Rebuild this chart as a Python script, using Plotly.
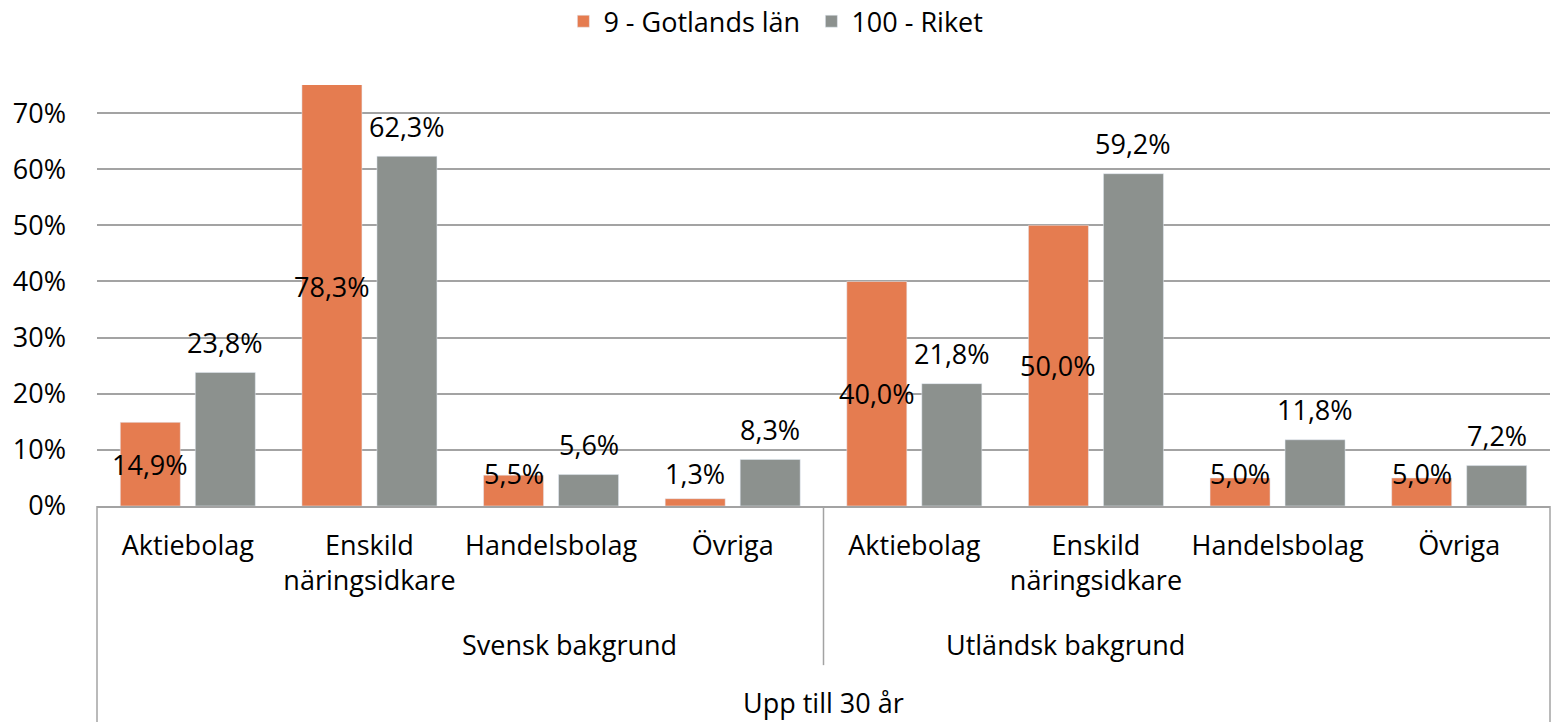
import plotly.graph_objects as go

# data
categories = ["Aktiebolag", "Enskild<br>näringsidkare", "Handelsbolag", "Övriga",
              "Aktiebolag", "Enskild<br>näringsidkare", "Handelsbolag", "Övriga"]
backgrounds = ["Svensk bakgrund", "Utländsk bakgrund"]
age_group = "Upp till 30 år"
series_names = ["9 - Gotlands län", "100 - Riket"]
gotland = [0.149, 0.783, 0.055, 0.013, 0.400, 0.500, 0.050, 0.050]
riket = [0.238, 0.623, 0.056, 0.083, 0.218, 0.592, 0.118, 0.072]

ORANGE = "#E57C50"
GREY = "#8C918E"
LINE = "#A3A3A3"
FONT = "Open Sans"
FS = 27

x = list(range(len(categories)))
bargap = 0.174
offset = (1 - bargap) / 4

fig = go.Figure()
fig.add_trace(go.Bar(x=x, y=gotland, name=series_names[0], marker_color=ORANGE))
fig.add_trace(go.Bar(x=x, y=riket, name=series_names[1], marker_color=GREY))

ann = []
# orange labels sit in the middle of the bar, lifted for the short ones
for i, v in enumerate(gotland):
    ann.append(dict(x=i - offset, y=max(v / 2, 0.058), xref="x", yref="y",
                    text=f"{v:.1%}".replace(".", ","), showarrow=False,
                    yanchor="middle", font=dict(size=FS, color="black")))
# grey labels above the bar
for i, v in enumerate(riket):
    ann.append(dict(x=i + offset, y=v, xref="x", yref="y", yshift=30,
                    text=f"{v:.1%}".replace(".", ","), showarrow=False,
                    yanchor="middle", font=dict(size=FS, color="black")))
# second and third level of the category axis
for k, b in enumerate(backgrounds):
    ann.append(dict(x=0.25 + 0.5 * k, y=-0.33, xref="paper", yref="paper",
                    text=b, showarrow=False, yanchor="middle",
                    font=dict(size=FS, color="black")))
ann.append(dict(x=0.5, y=-0.467, xref="paper", yref="paper", text=age_group,
                showarrow=False, yanchor="middle", font=dict(size=FS, color="black")))

shapes = [
    dict(type="line", xref="paper", yref="paper", x0=0, x1=0, y0=0, y1=-0.52,
         line=dict(color=LINE, width=1.5)),
    dict(type="line", xref="paper", yref="paper", x0=0.5, x1=0.5, y0=0, y1=-0.378,
         line=dict(color=LINE, width=1.5)),
    dict(type="line", xref="paper", yref="paper", x0=1, x1=1, y0=0, y1=-0.52,
         line=dict(color=LINE, width=1.5)),
]

fig.update_layout(
    width=1552, height=722,
    margin=dict(l=97, r=2, t=85, b=216, autoexpand=False),
    paper_bgcolor="white", plot_bgcolor="white",
    font=dict(family=FONT, size=FS, color="black"),
    separators=", ",
    barmode="group", bargap=bargap, bargroupgap=0.2,
    showlegend=True,
    legend=dict(orientation="h", xref="container", x=0.363, xanchor="left",
                yref="container", y=0.97, yanchor="middle", entrywidth=203,
                font=dict(size=FS)),
    annotations=ann,
    shapes=shapes,
)
fig.update_xaxes(range=[-0.5, len(categories) - 0.5], tickvals=x, ticktext=categories,
                 showline=True, linecolor=LINE, linewidth=1.5, showgrid=False,
                 ticks="", ticklabelstandoff=15, tickfont=dict(size=FS), automargin=False)
fig.update_yaxes(range=[0, 0.75], tickvals=[0, 0.1, 0.2, 0.3, 0.4, 0.5, 0.6, 0.7],
                 tickformat=".0%", showgrid=True, gridcolor=LINE, gridwidth=1.5,
                 zeroline=False, ticks="", ticklabelstandoff=30, tickfont=dict(size=FS),
                 automargin=False)

# drop the browser's default 8px body margin so the figure fills the window
fig.write_html("out.html", config={"displayModeBar": False},
               post_script="document.body.style.margin='0';")
